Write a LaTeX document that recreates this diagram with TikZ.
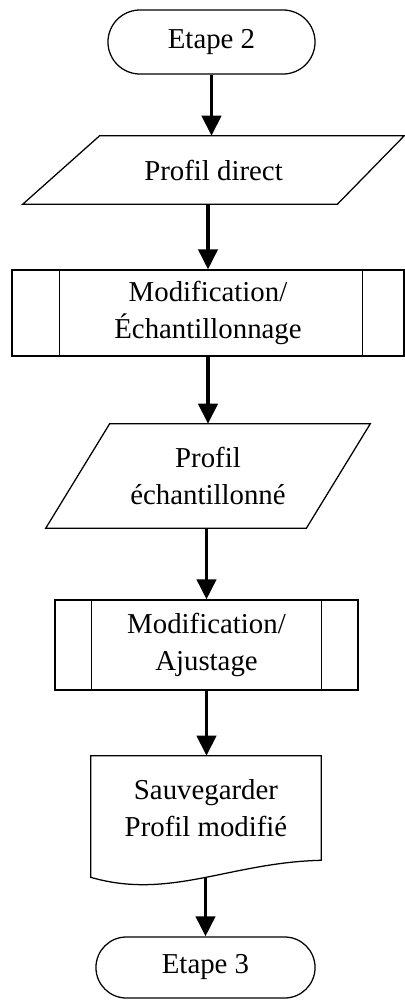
\documentclass[tikz,border=0pt]{standalone}
\usepackage{fontspec}
\setmainfont{Liberation Serif}
\usetikzlibrary{arrows.meta,calc}

\begin{document}
\begin{tikzpicture}[x=0.025cm,y=-0.025cm,
  every node/.style={font=\fontsize{20.5pt}{26pt}\selectfont,align=center,inner sep=0pt},
  outline/.style={line width=0.9pt},
  terminal/.style={draw,outline,rounded corners=0.76cm,minimum height=1.525cm},
  flow/.style={line width=0.09cm,-{Triangle[length=0.5cm,width=0.48cm]}}]
  \useasboundingbox (0,0) rectangle (404,1001);

  % Start
  \node[terminal,minimum width=5.175cm,minimum height=1.6cm,rounded corners=0.8cm]
    (etape2) at (211.5,42) {Etape 2};

  % Input: direct profile
  \node[minimum width=9.525cm,minimum height=1.7cm] (pdirect) at (213.5,170) {Profil direct};
  \draw[outline] ($(pdirect.north west)+(77,0)$) -- (pdirect.north east)
    -- ($(pdirect.south east)+(-67,0)$) -- (pdirect.south west) -- cycle;

  % Sub-process: sampling
  \node[draw,outline,minimum width=9.8cm,minimum height=2.15cm] (modech) at (208,313)
    {Modification/\\Échantillonnage};

  % Input: sampled profile
  \node[minimum width=8.1cm,minimum height=2.6cm] (pech) at (208,476) {Profil\\échantillonné};
  \draw[outline] ($(pech.north west)+(64,0)$) -- (pech.north east)
    -- ($(pech.south east)+(-64,0)$) -- (pech.south west) -- cycle;

  % Sub-process: adjustment
  \node[draw,outline,minimum width=7.575cm,minimum height=2.25cm] (modaj) at (206.5,645)
    {Modification/\\Ajustage};

  % Side bars of both sub-processes
  \foreach \n/\a/\b in {modech/48/42,modaj/37/37} {
    \draw[outline] ($(\n.north west)+(\a,0)$) -- ($(\n.south west)+(\a,0)$);
    \draw[outline] ($(\n.north east)+(-\b,0)$) -- ($(\n.south east)+(-\b,0)$);
  }

  % Document: save
  \node[minimum width=5.75cm,minimum height=2.6cm] (sauve) at (206,808)
    {Sauvegarder\\Profil modifié};
  \draw[outline] ($(sauve.south west)+(0,17)$) -- (sauve.north west) -- (sauve.north east)
    -- (sauve.south east)
    .. controls ($(sauve.south east)+(-91,2)$) and ($(sauve.south west)+(79,40)$)
    .. ($(sauve.south west)+(0,17)$) coordinate[pos=0.5] (sauveb) -- cycle;

  % End
  \node[terminal,minimum width=5.475cm] (etape3) at (205.5,967.5) {Etape 3};

  % Flow
  \draw[flow] (etape2) -- (etape2 |- pdirect.north);
  \draw[flow] (modech |- pdirect.south) -- (modech);
  \draw[flow] (modech) -- (pech);
  \draw[flow] (modaj |- pech.south) -- (modaj);
  \draw[flow] (modaj) -- (modaj |- sauve.north);
  \draw[flow] (etape3.north |- sauveb) -- (etape3);
\end{tikzpicture}
\end{document}
